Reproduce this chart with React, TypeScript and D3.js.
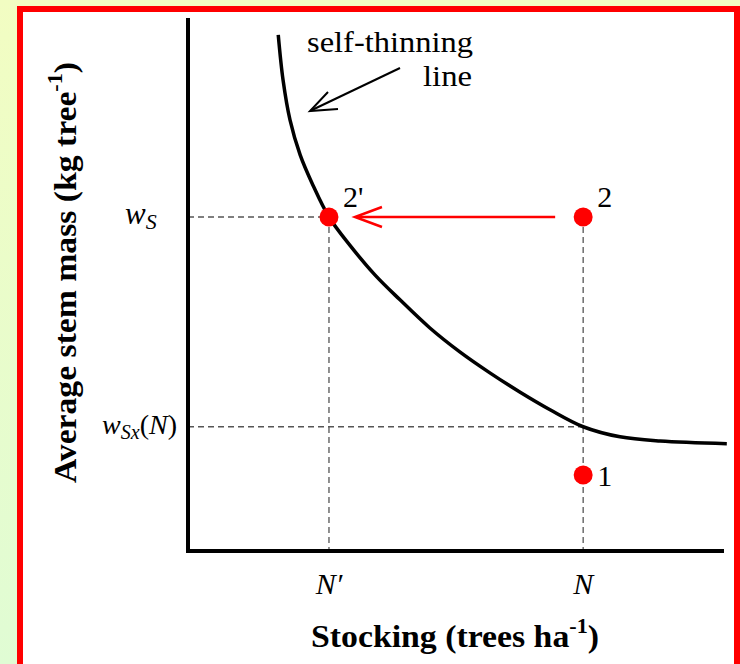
import React from "react";
import * as d3 from "d3";

// Self-thinning curve (relative stocking vs. relative stem mass)
const curveX = [16.9, 17.8, 19.1, 21.0, 23.4, 26.4, 30.3, 35.0, 39.7, 45.3, 50.9, 56.6, 62.2, 67.8, 74.0, 80.9, 88.4, 100.9];
const curveY = [97.2, 88.7, 81.2, 74.6, 68.9, 62.9, 57.6, 52.0, 47.3, 42.0, 37.5, 33.5, 29.9, 26.6, 23.4, 21.5, 20.7, 20.2];

// Stand states
const pointLabels = ["2'", "2", "1"];
const pointX = [26.4, 74.0, 74.0];
const pointY = [62.9, 62.9, 14.3];

// Reference levels
const nPrime = 26.4;
const nStock = 74.0;
const wS = 62.9;
const wSx = 23.4;

const W = 740;
const H = 664;
const plot = { left: 188, right: 722, top: 20, bottom: 551 };
const serif = '"Liberation Serif", "Times New Roman", Times, serif';

export default function App() {
  const x = d3.scaleLinear().domain([0, 100]).range([plot.left, plot.right]);
  const y = d3.scaleLinear().domain([0, 100]).range([plot.bottom, plot.top]);

  const line = d3
    .line<number>()
    .x((_, i) => x(curveX[i]))
    .y((d) => y(d))
    .curve(d3.curveCatmullRom.alpha(0.5));

  const dash = "6,4";
  const p2p = { x: x(pointX[0]), y: y(pointY[0]) };
  const p2 = { x: x(pointX[1]), y: y(pointY[1]) };
  const txt = { fontFamily: serif };

  return (
    <svg width={W} height={H} style={{ position: "fixed", left: 0, top: 0, fontFamily: serif }}>
      <defs>
        <linearGradient id="bg" x1="0" y1="0" x2="0" y2="1">
          <stop offset="0" stopColor="#f2fdc2" />
          <stop offset="1" stopColor="#e0fcd4" />
        </linearGradient>
      </defs>
      <rect x={0} y={0} width={W} height={H} fill="url(#bg)" />
      <rect x={20} y={9} width={717} height={700} fill="#fff" stroke="#ff0000" strokeWidth={6} />

      {/* guide lines */}
      <g stroke="#555" strokeWidth={1.3} strokeDasharray={dash} fill="none">
        <line x1={x(0)} x2={x(nPrime)} y1={y(wS)} y2={y(wS)} />
        <line x1={x(nPrime)} x2={x(nPrime)} y1={y(wS)} y2={y(0)} />
        <line x1={x(nStock)} x2={x(nStock)} y1={y(wS)} y2={y(0)} />
        <line x1={x(0)} x2={x(nStock)} y1={y(wSx)} y2={y(wSx)} />
      </g>

      {/* axes */}
      <g stroke="#000" strokeWidth={4} fill="none" strokeLinecap="square">
        <line x1={x(0)} x2={x(0)} y1={y(100)} y2={y(0)} />
        <line x1={x(0)} x2={x(100)} y1={y(0)} y2={y(0)} />
      </g>

      {/* self-thinning curve */}
      <path d={line(curveY) || ""} fill="none" stroke="#000" strokeWidth={3.5} />

      {/* thinning arrow 2 -> 2' */}
      <g stroke="#ff0000" strokeWidth={2.5} fill="none">
        <line x1={p2.x - 28} x2={p2p.x + 28} y1={p2.y} y2={p2.y} />
        <path d={`M${p2p.x + 53},${p2.y - 10} L${p2p.x + 26},${p2.y} L${p2p.x + 53},${p2.y + 10}`} />
      </g>

      {/* points */}
      {pointLabels.map((lab, i) => (
        <g key={lab}>
          <circle cx={x(pointX[i])} cy={y(pointY[i])} r={9.5} fill="#ff0000" />
          <text style={txt} x={x(pointX[i]) + 14} y={y(pointY[i]) - (i < 2 ? 10 : -11)} fontSize={30}>
            {lab}
          </text>
        </g>
      ))}

      {/* annotation */}
      <text style={txt} x={307} y={52} fontSize={30} textLength={166} lengthAdjust="spacingAndGlyphs">
        self-thinning
      </text>
      <text style={txt} x={423} y={86} fontSize={30} textLength={49} lengthAdjust="spacingAndGlyphs">
        line
      </text>
      <g stroke="#000" strokeWidth={2} fill="none">
        <line x1={400} y1={68} x2={312} y2={110} />
        <path d="M328,92 L310,111 L338,109" />
      </g>

      {/* y tick labels */}
      <text style={txt} x={125} y={y(wS) + 7} fontSize={31} fontStyle="italic">
        w<tspan fontSize={22} dy={5}>S</tspan>
      </text>
      <text style={txt} x={177} y={y(wSx) + 7} fontSize={28} fontStyle="italic" textAnchor="end">
        w<tspan fontSize={20} dy={5}>Sx</tspan>
        <tspan dy={-5} fontStyle="normal">(</tspan>N<tspan fontStyle="normal">)</tspan>
      </text>

      {/* x tick labels */}
      <text style={txt} x={x(nPrime)} y={594} fontSize={30} fontStyle="italic" textAnchor="middle">N′</text>
      <text style={txt} x={x(nStock)} y={594} fontSize={30} fontStyle="italic" textAnchor="middle">N</text>

      {/* axis titles */}
      <text
        style={txt}
        x={311}
        y={647}
        fontSize={32}
        fontWeight="bold"
        textLength={288}
        lengthAdjust="spacingAndGlyphs"
      >
        Stocking (trees ha<tspan fontSize={21} dy={-14}>-1</tspan><tspan dy={14}>)</tspan>
      </text>
      <text
        style={txt}
        transform={`translate(76, 483) rotate(-90)`}
        fontSize={32}
        fontWeight="bold"
        textLength={421}
        lengthAdjust="spacingAndGlyphs"
      >
        Average stem mass (kg tree<tspan fontSize={21} dy={-14}>-1</tspan><tspan dy={14}>)</tspan>
      </text>
    </svg>
  );
}
